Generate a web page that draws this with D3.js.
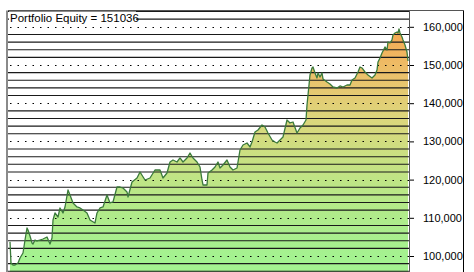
<!DOCTYPE html>
<html>
<head>
<meta charset="utf-8">
<script src="https://cdn.jsdelivr.net/npm/d3@7"></script>
<style>
html,body{margin:0;padding:0;background:#fff;}
svg{display:block;}
</style>
</head>
<body>
<svg id="chart" width="474" height="272"></svg>
<script>
// ---- data ----
const bars = [0,1,3,5,8,10,13,15,17,18,20,22,23,25,27,30,33,37,40,42,43,45,48,50,53,55,58,60,63,67,70,73,77,80,85,87,90,93,97,100,103,107,110,113,117,118,122,127,130,135,140,145,150,153,157,160,163,167,170,173,177,180,183,187,190,192,193,197,198,202,205,208,210,213,217,220,223,227,230,233,237,240,242,245,248,252,255,258,262,265,267,270,273,277,280,283,287,290,293,296,297,298,300,302,303,305,307,308,310,312,313,317,320,323,327,330,333,337,340,342,345,348,350,352,355,358,362,365,367,368,370,372,375,377,378,380,382,383,385,387,388,389,390,392,393,395,397,398];
const equity = [103700,98170,97640,97640,98170,99480,100790,104190,107330,106810,105240,103400,103140,104190,103930,104190,104450,104970,103140,104710,109420,111260,110210,112570,111260,112830,117280,115970,113880,112830,112570,112040,111260,109420,108640,111260,112570,112830,115970,113880,114140,118060,118060,117800,116760,115450,119370,120420,121990,119900,120420,122510,122510,120420,121730,124610,125130,124610,125660,124610,125660,126970,125660,124610,123300,119900,118590,118590,121730,122510,123300,124610,123040,123820,125130,123300,122510,123040,127750,129060,129580,128540,129850,132460,132990,134300,133770,132200,130370,129850,129580,130370,131150,135600,134820,135080,132200,133510,134300,135600,139530,142150,147390,149220,149480,147910,146600,147910,146860,147910,146340,145550,145030,144240,143980,144510,144240,144770,144770,146080,146600,148170,149480,149220,148170,147390,146600,147390,148690,150790,151840,153150,154720,153930,156030,155760,156550,157860,158380,158640,158380,159430,158380,157330,156550,155240,153410,151036];
const title = "Portfolio Equity = 151036";
const tickValues = [100000,110000,120000,130000,140000,150000,160000];
const stripeStep = 2000;

// ---- layout ----
const svg = d3.select("#chart");
const plotL = 8, plotR = 409.5, plotT = 10.5, plotB = 272, axisR = 463.5;

const x = d3.scaleLinear().domain([0, 398]).range([10, 408]);
const y = d3.scaleLinear().domain([100000, 160000]).range([256, 26.8]);

const data = bars.map((b, i) => ({b, v: equity[i]}));

// gradient for area
const defs = svg.append("defs");
const grad = defs.append("linearGradient")
  .attr("id", "eqGrad").attr("gradientUnits", "userSpaceOnUse")
  .attr("x1", 0).attr("x2", 0).attr("y1", y(100000)).attr("y2", y(160000));
[[0, "#a4f290"], [0.2, "#b2ea8a"], [0.4, "#c6e283"], [0.6, "#dcd67c"], [0.8, "#ecc06a"], [1, "#f6a650"]]
  .forEach(([o, c]) => grad.append("stop").attr("offset", o).attr("stop-color", c));

defs.append("clipPath").attr("id", "plotClip")
  .append("rect").attr("x", plotL).attr("y", plotT).attr("width", plotR - plotL).attr("height", plotB - plotT);

const plot = svg.append("g").attr("clip-path", "url(#plotClip)");

// area
const area = d3.area().x(d => x(d.b)).y0(plotB).y1(d => y(d.v));
plot.append("path").datum(data).attr("d", area).attr("fill", "url(#eqGrad)");

// stripes every 2000
const vTop = y.invert(plotT), vBot = y.invert(plotB);
const stripes = d3.range(Math.ceil(vBot / stripeStep) * stripeStep, vTop, stripeStep);
plot.selectAll("line.stripe").data(stripes.filter(v => v % 10000 !== 0)).enter()
  .append("line").attr("class", "stripe")
  .attr("x1", plotL).attr("x2", plotR)
  .attr("y1", d => y(d)).attr("y2", d => y(d))
  .attr("stroke", "#1a1a1a").attr("stroke-width", 1.1);

// dotted grid lines at 10,000s
plot.selectAll("line.grid").data(stripes.filter(v => v % 10000 === 0)).enter()
  .append("line").attr("class", "grid")
  .attr("x1", plotL + 2).attr("x2", plotR)
  .attr("y1", d => Math.round(y(d)) + 0.5).attr("y2", d => Math.round(y(d)) + 0.5)
  .attr("stroke", "#000").attr("stroke-width", 1)
  .attr("stroke-dasharray", "1.5,6");

// equity line
const line = d3.line().x(d => x(d.b)).y(d => y(d.v));
plot.append("path").datum(data).attr("d", line)
  .attr("fill", "none").attr("stroke", "#3b7a3b").attr("stroke-width", 1.3)
  .attr("stroke-linejoin", "round");

// title with white background
svg.append("rect").attr("x", plotL + 1).attr("y", plotT + 1).attr("width", 127).attr("height", 13).attr("fill", "#fff");
svg.append("text").attr("x", 10).attr("y", 21.5)
  .attr("font-family", "Arial, 'Liberation Sans', sans-serif").attr("font-size", 11.5)
  .attr("fill", "#000").text(title);

// frame
svg.append("line").attr("x1", plotL).attr("x2", axisR).attr("y1", plotT).attr("y2", plotT).attr("stroke", "#555").attr("stroke-width", 1);
svg.append("line").attr("x1", plotL - 1).attr("x2", plotL - 1).attr("y1", plotT).attr("y2", plotB).attr("stroke", "#8a8a8a").attr("stroke-width", 2);
svg.append("line").attr("x1", plotR).attr("x2", plotR).attr("y1", plotT).attr("y2", plotB).attr("stroke", "#555").attr("stroke-width", 1);
svg.append("line").attr("x1", axisR).attr("x2", axisR).attr("y1", plotT).attr("y2", plotB).attr("stroke", "#000").attr("stroke-width", 1);

// right axis
const axis = d3.axisRight(y).tickValues(tickValues).tickSize(4).tickPadding(9)
  .tickFormat(d3.format(","));
const ag = svg.append("g").attr("transform", `translate(${plotR + 0.5},0)`).call(axis);
ag.select(".domain").remove();
ag.selectAll(".tick line").attr("stroke", "#000");
ag.selectAll(".tick text").attr("font-family", "Arial, 'Liberation Sans', sans-serif")
  .attr("font-size", 11).attr("fill", "#000");
</script>
</body>
</html>
